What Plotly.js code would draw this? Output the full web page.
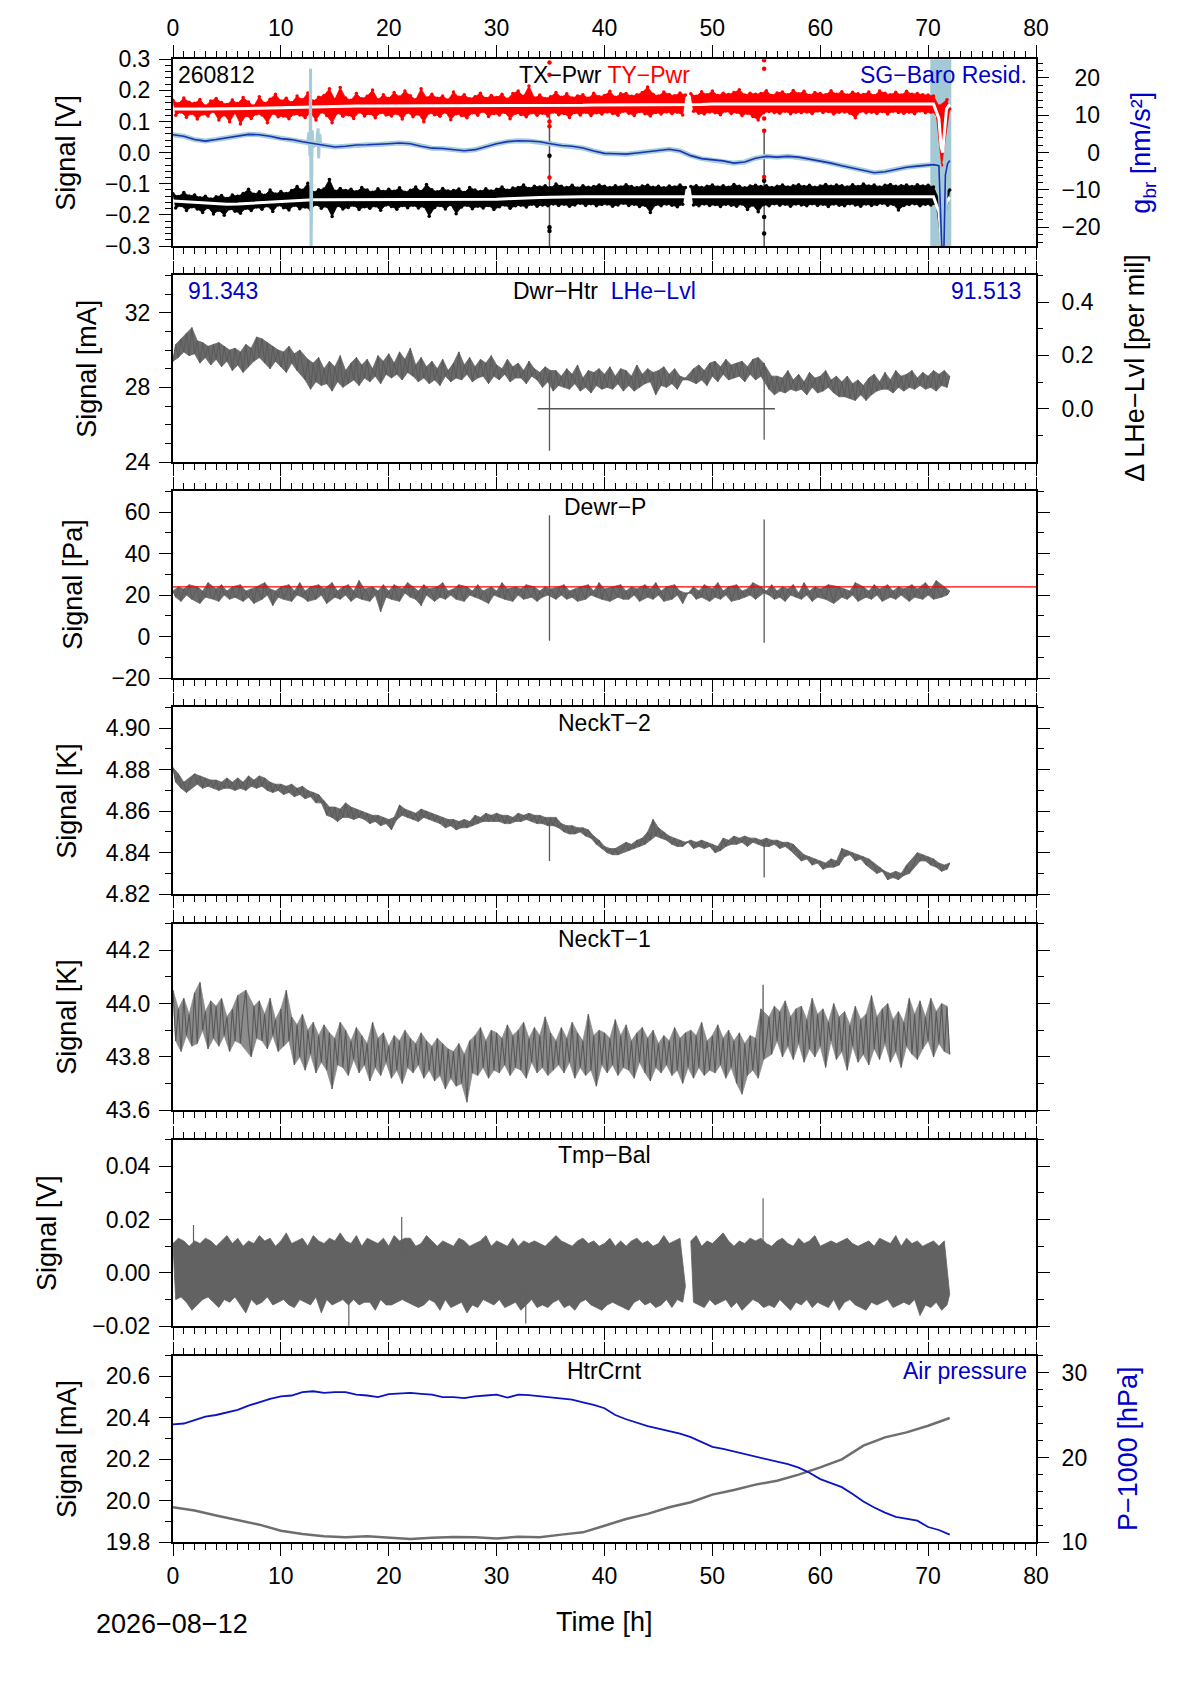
<!DOCTYPE html>
<html>
<head>
<meta charset="utf-8">
<title>SG monitor 260812</title>
<script src="https://cdn.plot.ly/plotly-3.0.1.min.js"></script>
<style>
  html, body { margin: 0; padding: 0; background: #fff; }
  #chart { width: 1190px; height: 1684px; }
</style>
</head>
<body>
<div id="chart"></div>
<script>
/* Seven stacked monitor channels of the gravimeter, 0 h .. 72 h.
 *
 * The noisy channels are sampled every quarter hour and drawn the way a plotter
 * shows dense data: filled between the peaks and troughs of the trace. Short
 * spikes are kept apart so they stay thin. Smooth channels carry their own times.
 */

(function () {
  "use strict";

  // ---------------------------------------------------------------- data
  const T_START = 0;   // h
  const T_STEP = 0.25; // h, one reading per quarter hour

  // TY-Pwr, mV (red band), two hours per row
  const TY_PWR_MV = [
    168,120,157,131,176,114,162,127,  159,108,171,124,150,118,166,133,
    174,105,161,122,155,99,169,128,   158,92,177,119,163,110,150,125,
    180,121,158,96,172,127,188,115,   166,118,175,109,160,124,182,121,
    170,113,192,127,165,105,178,131,  184,119,205,96,171,128,209,117,
    176,122,168,110,190,131,173,118,  181,126,201,112,170,129,186,121,
    174,118,193,127,179,108,198,130,  183,115,170,124,205,99,176,128,
    188,122,175,117,182,131,169,106,  195,125,178,119,186,112,173,128,
    180,120,191,133,174,116,184,126,  177,121,188,130,172,109,190,127,
    198,123,181,115,214,128,176,120,  185,127,174,118,180,131,193,122,
    178,126,189,113,176,129,182,121,  186,130,175,119,191,128,180,124,
    184,131,197,126,178,120,189,133,  190,127,181,119,186,132,193,125,
    211,118,188,129,182,124,195,131,  187,126,183,130,192,121,185,null,
    189,133,181,127,196,124,186,131,  198,128,184,122,191,134,187,126,
    193,130,202,119,185,127,191,116,  188,105,190,128,199,132,184,129,
    192,127,195,133,186,125,200,130,  189,128,197,131,184,126,193,134,
    190,129,186,132,199,124,188,130,  196,131,185,127,194,112,189,133,
    187,128,195,130,183,126,198,132,  191,124,186,133,194,129,185,127,
    197,130,188,125,190,134,186,128,  185,130,182,125,150,-40,90,170,
    140
  ];

  // TX-Pwr, mV (black band)
  const TX_PWR_MV = [
    -132,-178,-141,-170,-128,-186,-139,-174,  -136,-181,-145,-192,-140,-176,-149,-197,
    -142,-185,-138,-201,-147,-180,-136,-188,  -140,-195,-131,-179,-118,-186,-134,-175,
    -126,-182,-137,-171,-120,-189,-133,-168,  -125,-177,-131,-184,-122,-169,-109,-180,
    -121,-175,-98,-183,-128,-166,-119,-179,   -117,-172,-86,-205,-124,-170,-115,-181,
    -122,-176,-118,-169,-126,-183,-112,-174,  -120,-179,-127,-171,-116,-185,-125,-168,
    -118,-173,-124,-182,-113,-170,-127,-177,  -121,-169,-110,-178,-125,-172,-102,-204,
    -119,-176,-126,-170,-115,-181,-123,-167,  -122,-196,-117,-175,-128,-169,-112,-180,
    -120,-172,-125,-178,-116,-170,-123,-183,  -118,-174,-110,-168,-121,-179,-114,-171,
    -112,-169,-104,-175,-115,-166,-108,-172,  -110,-168,-106,-171,-113,-165,-101,-170,
    -108,-166,-112,-172,-105,-168,-114,-163,  -106,-170,-111,-164,-109,-171,-104,-167,
    -108,-165,-112,-172,-106,-168,-110,-163,  -103,-170,-109,-166,-112,-173,-107,-169,
    -105,-192,-111,-167,-108,-171,-113,-165,  -107,-169,-110,-174,-104,-166,-112,null,
    -109,-168,-106,-171,-112,-165,-108,-170,  -104,-167,-110,-173,-106,-166,-111,-169,
    -102,-172,-108,-165,-113,-183,-107,-168,  -105,-190,-109,-167,-106,-171,-112,-164,
    -108,-169,-104,-166,-110,-172,-106,-165,  -103,-168,-109,-171,-105,-164,-111,-170,
    -107,-166,-102,-173,-108,-165,-104,-169,  -106,-171,-110,-164,-103,-168,-109,-172,
    -101,-165,-107,-170,-104,-167,-110,-163,  -105,-169,-102,-166,-108,-184,-106,-170,
    -104,-167,-109,-164,-103,-171,-107,-166,  -105,-168,-110,-165,-150,-300,-200,-125,
    -120
  ];

  // White running means of both power channels, mV
  const PWR_MEAN_T = [
    0,1,2,3,4,5,6,7,8,9, 10,11,12,13,14,15,16,17,18,19, 20,21,22,23,24,25,26,27,28,29,
    30,31,32,33,34,35,36,37,38,39, 40,41,42,43,44,45,46,47,48,49, 50,51,52,53,54,55,56,57,58,59,
    60,61,62,63,64,65,66,67,68,69, 70,70.5,71,71.2,71.35,71.5,71.7,72
  ];
  const TY_MEAN_MV = [
    140,141,140,140,140,141,142,142,143,144, 145,145,146,147,148,149,149,150,150,150,
    150,151,150,150,150,151,152,151,151,151, 150,150,151,152,152,152,152,152,152,153,
    153,154,154,154,155,154,154,154,155,155, 156,156,156,156,156,156,156,156,157,157,
    157,157,157,157,157,157,157,157,157,157, 157,156,110,20,0,60,140,155
  ];
  const TX_MEAN_MV = [
    -155,-157,-159,-162,-164,-166,-165,-163,-160,-157, -155,-153,-152,-151,-151,-151,-151,-151,-151,-151,
    -150,-151,-151,-152,-152,-152,-152,-151,-151,-150, -150,-148,-146,-145,-144,-143,-142,-142,-142,-142,
    -142,-142,-142,-142,-142,-142,-142,-142,-142,-142, -142,-142,-142,-142,-142,-142,-142,-142,-141,-141,
    -141,-141,-141,-141,-141,-141,-141,-141,-141,-141, -141,-142,-190,-290,-330,-240,-160,-143
  ];

  // Outliers around the two interruptions
  const TY_OUT_T = [34.9,34.9,34.9,34.9,34.9,34.9, 54.8,54.8,54.8,54.8,54.8,54.8];
  const TY_OUT_MV = [290,250,100,85,-80,-155, 297,270,110,70,-78,-120];
  const TX_OUT_T = [34.9,34.9,34.9,34.9, 54.8,54.8,54.8,54.8];
  const TX_OUT_MV = [30,-10,-240,-252, -90,-120,-207,-260];
  const DROP_T = [34.9, 54.8];
  const DROP_LO_MV = [-300, -300];
  const DROP_HI_MV = [120, 70];

  // SG-Baro residual, nm/s^2 (right axis of panel 1)
  const RESID_T = [
    0,1,2,3,4,5,6,7,8,9, 10,11,12,13,14,15,16,17,18,19, 20,21,22,23,24,25,26,27,28,29,
    30,31,32,33,34,35,36,37,38,39, 40,41,42,43,44,45,46,47,48,49, 50,51,52,53,54,55,56,57,58,59,
    60,61,62,63,64,65,66,67,68,69, 70,70.5,71,71.15,71.3,71.45,71.6,71.8,72
  ];
  const RESID_NMS2 = [
    4.8,4.4,3.5,3.1,3.5,4.0,4.6,4.9,4.8,4.4, 3.75,3.5,2.9,2.4,1.9,1.5,1.7,2.05,2.1,2.2,
    2.4,2.6,2.4,1.7,1.2,1.1,0.8,0.5,0.8,1.7, 2.4,2.95,3.2,3.1,2.9,2.4,1.9,1.7,1.25,0.45,
    -0.2,-0.3,-0.4,-0.1,0.2,0.6,0.9,0.45,-0.8,-1.6, -1.9,-2.2,-2.8,-2.5,-1.5,-1.0,-1.2,-1.0,-1.2,-1.7,
    -2.2,-2.8,-3.5,-4.2,-4.9,-5.4,-5.1,-4.4,-3.9,-3.6, -3.4,-3.2,-3.5,-15,-28,-28,-6,-3,-2.1
  ];
  // raw residual burst near 13 h
  const RAW_BURST_T = [12.5,12.6,12.7,12.75,12.8,12.9,13.0,13.3,13.45,13.5,13.6,13.7];
  const RAW_BURST_NMS2 = [3.0,5.5,-1.0,22.5,-27,6.0,1.5,2.5,6.5,-1.5,5.0,2.0];
  const SHADE_T = [70.2, 72.15];

  // Dwr-Htr, mA
  const DWR_HTR_MA = [
    29.4,30.3,29.6,30.6,29.9,30.9,29.7,31.2,  29.8,30.5,29.3,30.4,29.6,30.2,29.2,30.3,
    29.5,30.4,29.1,30.2,29.4,30.0,28.9,30.1,  29.2,29.9,28.8,30.3,29.1,30.1,29.4,30.7,
    29.6,30.6,29.3,30.4,29.0,30.2,29.4,30.0,  29.1,29.9,28.8,30.2,29.3,29.8,28.9,30.0,
    29.2,28.4,29.5,27.9,29.3,28.3,29.6,28.1,  29.0,28.2,29.4,27.8,29.1,28.3,29.7,28.0,
    28.9,28.2,29.3,28.4,29.6,28.1,29.2,28.5,  29.5,28.3,29.0,28.6,29.7,28.2,29.4,28.7,
    29.8,28.5,29.3,28.7,29.9,28.4,29.5,28.8,  30.1,28.6,29.2,28.3,29.6,28.5,29.1,28.2,
    29.4,28.4,29.0,28.1,29.5,28.6,28.9,28.3,  29.3,28.5,29.9,28.4,29.2,28.7,29.6,28.3,
    29.1,28.5,29.5,28.6,29.3,28.2,29.7,28.6,  29.2,28.4,29.0,28.7,29.5,28.3,29.1,28.5,
    29.3,28.5,28.9,28.2,29.4,28.6,29.0,28.4,  28.8,28.0,29.1,28.3,28.9,27.8,28.9,28.1,
    28.6,28.0,29.0,27.9,28.7,28.2,29.2,27.8,  28.5,28.0,28.9,27.7,28.8,28.1,29.0,27.9,
    28.7,28.0,29.1,27.9,28.6,28.2,29.0,27.8,  28.9,28.1,28.6,27.8,29.2,28.0,28.7,28.2,
    29.0,28.3,28.8,27.6,28.9,28.1,29.1,28.0,  28.7,28.2,29.0,27.9,28.6,28.4,28.5,28.4,
    28.5,29.0,28.2,29.2,28.4,28.9,28.1,29.3,  28.6,29.4,28.3,29.1,28.7,29.5,28.4,29.2,
    28.5,29.3,28.6,29.4,28.3,29.1,28.7,29.5,  28.4,29.6,28.6,29.3,28.8,27.9,28.6,27.6,
    28.6,27.8,28.5,27.7,28.9,27.9,28.4,27.8,  28.7,27.9,28.3,27.6,28.8,28.0,28.5,27.7,
    28.6,27.8,28.9,28.0,28.4,27.7,28.6,27.5,  28.3,27.5,28.6,27.4,28.2,27.3,28.4,27.6,
    28.1,27.3,28.5,27.6,28.7,27.8,28.3,27.9,  28.8,27.9,28.4,27.7,28.9,28.0,28.6,27.8,
    28.7,28.0,28.9,27.9,28.5,28.1,28.8,27.9,  28.6,28.0,28.9,27.8,28.7,28.1,28.9,28.0,
    28.6
  ];
  const DWR_HTR_SPIKE_T = [34.9, 54.8];
  const DWR_HTR_SPIKE_LO = [24.6, 25.2];
  const DWR_HTR_SPIKE_HI = [28.8, 29.3];
  // LHe level, per mil (right axis of panel 2)
  const LHE_T = [33.8, 55.8];
  const LHE_PERMIL = [0, 0];
  const LHE_FIRST = "91.343";
  const LHE_LAST = "91.513";

  // Dewar pressure, Pa
  const DEWR_P_PA = [
    22,19,24,17,23,20,25,18,  21,24,16,22,19,26,20,18,
    23,17,25,20,22,18,24,19,  20,25,17,22,19,23,16,24,
    21,18,26,20,23,15,22,19,  24,18,21,25,17,22,20,26,
    19,22,17,24,21,18,25,20,  23,16,21,26,19,22,18,24,
    20,25,17,22,19,27,18,23,  21,17,24,20,22,12,25,19,
    22,18,25,20,17,23,21,26,  19,24,18,22,15,25,20,23,
    21,17,24,19,26,18,22,20,  23,18,25,21,17,24,20,22,
    19,25,18,22,21,16,24,20,  22,19,26,18,23,20,17,24,
    20,23,18,25,21,19,24,17,  22,19,24,20,23,21,18,24,
    20,25,18,22,19,23,17,24,  21,18,25,20,22,19,26,18,
    23,20,17,24,21,19,25,18,  22,18,24,20,23,17,21,25,
    19,23,18,26,20,22,17,24,  21,18,25,20,22,16,21,21,
    21,24,18,22,19,25,20,17,  23,19,26,18,22,20,24,17,
    21,25,18,22,19,23,20,26,  18,22,24,21,22,20,25,18,
    22,19,24,17,23,20,25,19,  21,18,26,20,22,17,24,19,
    23,20,18,25,21,16,22,24,  19,23,18,22,20,26,17,21,
    24,19,22,18,25,20,23,17,  21,25,19,22,18,24,20,23,
    22,17,25,19,23,20,18,26,  20,23,18,27,21,19,24,20,
    22
  ];
  const DEWR_P_SPIKE_T = [34.9, 54.8];
  const DEWR_P_SPIKE_LO = [-2, -3];
  const DEWR_P_SPIKE_HI = [58.5, 56.5];
  const DEWR_P_REF_T = [0, 80];
  const DEWR_P_REF_PA = [24, 24];

  // Neck temperature 2, K
  const NECK_T2_K = [
    4.881,4.874,4.878,4.871,4.874,4.869,4.873,4.876,  4.878,4.873,4.877,4.871,4.876,4.872,4.875,4.871,
    4.875,4.870,4.874,4.871,4.876,4.871,4.874,4.870,  4.876,4.871,4.874,4.870,4.877,4.872,4.875,4.871,
    4.877,4.872,4.876,4.870,4.874,4.869,4.873,4.870,  4.873,4.868,4.872,4.869,4.873,4.867,4.871,4.868,
    4.872,4.866,4.870,4.867,4.869,4.864,4.868,4.864,  4.865,4.858,4.862,4.857,4.862,4.855,4.861,4.857,
    4.864,4.857,4.862,4.856,4.861,4.857,4.860,4.856,  4.859,4.854,4.858,4.855,4.858,4.853,4.857,4.854,
    4.856,4.851,4.857,4.856,4.863,4.858,4.861,4.857,  4.860,4.856,4.859,4.855,4.861,4.857,4.860,4.856,
    4.859,4.855,4.858,4.854,4.857,4.852,4.856,4.853,  4.856,4.851,4.855,4.852,4.856,4.852,4.855,4.853,
    4.858,4.854,4.857,4.855,4.859,4.855,4.858,4.855,  4.859,4.855,4.858,4.854,4.858,4.854,4.857,4.855,
    4.859,4.855,4.858,4.856,4.859,4.855,4.858,4.854,  4.858,4.854,4.857,4.853,4.857,4.853,4.857,4.852,
    4.854,4.850,4.853,4.849,4.853,4.849,4.852,4.850,  4.852,4.848,4.851,4.847,4.848,4.844,4.846,4.842,
    4.843,4.840,4.842,4.839,4.842,4.839,4.841,4.842,  4.845,4.841,4.844,4.842,4.846,4.843,4.847,4.844,
    4.850,4.846,4.856,4.848,4.852,4.847,4.850,4.846,  4.848,4.844,4.847,4.843,4.846,4.843,4.845,4.845,
    4.846,4.842,4.845,4.843,4.846,4.842,4.845,4.843,  4.844,4.840,4.843,4.841,4.847,4.843,4.846,4.844,
    4.848,4.844,4.847,4.845,4.848,4.843,4.847,4.845,  4.847,4.844,4.846,4.843,4.847,4.843,4.846,4.844,
    4.846,4.842,4.845,4.843,4.845,4.841,4.844,4.841,  4.840,4.836,4.839,4.837,4.838,4.834,4.837,4.835,
    4.836,4.832,4.835,4.833,4.837,4.833,4.836,4.834,  4.842,4.838,4.841,4.839,4.840,4.836,4.839,4.837,
    4.838,4.834,4.837,4.835,4.834,4.830,4.833,4.831,  4.831,4.827,4.830,4.828,4.831,4.827,4.830,4.829,
    4.834,4.830,4.833,4.835,4.840,4.836,4.839,4.836,  4.838,4.834,4.837,4.833,4.835,4.831,4.834,4.832,
    4.835
  ];
  const NECK_T2_SPIKE_T = [34.9, 54.8];
  const NECK_T2_SPIKE_LO = [4.836, 4.828];
  const NECK_T2_SPIKE_HI = [4.855, 4.846];

  // Neck temperature 1, K
  const NECK_T1_K = [
    44.05,43.86,43.98,43.82,44.02,43.88,43.96,43.84,  44.04,43.85,44.08,43.90,43.97,43.83,44.01,43.87,
    43.99,43.84,44.02,43.88,43.95,43.82,43.98,43.86,  44.03,43.85,43.97,44.05,43.89,43.80,43.99,43.87,
    44.01,43.86,43.96,43.83,44.02,43.88,43.94,43.82,  43.98,43.84,44.05,43.86,43.95,43.77,43.92,43.80,
    43.96,43.75,43.90,43.81,43.93,43.74,43.88,43.78,  43.92,43.75,43.89,43.68,43.87,43.77,43.93,43.76,
    43.90,43.73,43.86,43.79,43.91,43.74,43.88,43.77,  43.85,43.71,43.93,43.76,43.87,43.73,43.89,43.78,
    43.84,43.72,43.88,43.75,43.86,43.70,43.90,43.76,  43.87,43.74,43.85,43.77,43.89,43.72,43.86,43.75,
    43.84,43.71,43.87,43.73,43.85,43.68,43.83,43.72,  43.82,43.69,43.85,43.70,43.81,43.63,43.86,43.74,
    43.88,43.73,43.91,43.76,43.86,43.72,43.90,43.75,  43.89,43.74,43.87,43.77,43.92,43.73,43.88,43.76,
    43.90,43.75,43.93,43.72,43.87,43.78,43.91,43.74,  43.88,43.76,43.95,43.73,43.89,43.75,43.86,43.77,
    43.91,43.74,43.87,43.78,43.93,43.72,43.89,43.76,  43.86,43.73,43.96,43.75,43.88,43.69,43.90,43.77,
    43.89,43.74,43.87,43.77,43.94,43.73,43.88,43.76,  43.92,43.75,43.86,43.72,43.89,43.78,43.91,43.74,
    43.87,43.71,43.90,43.76,43.85,43.74,43.88,43.77,  43.86,43.73,43.91,43.75,43.87,43.70,43.89,43.76,
    43.90,43.72,43.88,43.76,43.93,43.73,43.86,43.75,  43.88,43.74,43.92,43.77,43.87,43.72,43.90,43.76,
    43.86,43.70,43.89,43.66,43.85,43.73,43.88,43.75,  43.87,43.72,43.98,43.79,43.85,43.95,43.81,43.99,
    43.86,43.97,43.80,44.01,43.84,43.95,43.79,43.98,  43.85,43.99,43.78,43.94,43.83,44.02,43.80,43.96,
    43.84,43.98,43.76,43.93,43.86,44.00,43.79,43.95,  43.82,43.97,43.75,43.92,43.84,43.99,43.78,43.94,
    43.81,43.96,43.77,44.03,43.83,43.95,43.79,43.98,  43.85,44.00,43.78,43.94,43.82,43.97,43.76,43.93,
    43.84,44.02,43.81,43.96,43.79,44.01,43.83,43.95,  43.86,44.02,43.80,43.97,43.85,44.00,43.82,43.99,
    43.81
  ];
  const NECK_T1_SPIKE_T = [54.7];
  const NECK_T1_SPIKE_LO = [43.82];
  const NECK_T1_SPIKE_HI = [44.07];

  // Tmp-Bal, mV
  const TMP_BAL_MV = [
    11,-10,13,-9,12,-11,10,-14,   12,-12,11,-10,13,-9,12,-11,
    10,-13,12,-10,14,-11,11,-9,   13,-12,10,-15,12,-10,11,-12,
    14,-11,12,-9,13,-12,10,-11,   12,-10,15,-12,11,-13,12,-10,
    13,-11,10,-12,14,-9,12,-15,   11,-10,13,-12,12,-11,15,-10,
    12,-12,11,-10,14,-12,10,-11,  13,-11,12,-14,11,-10,13,-12,
    10,-12,14,-11,12,-10,13,-11,  13,-12,10,-13,11,-12,14,-10,
    12,-11,10,-14,12,-10,11,-13,  10,-12,13,-11,12,-15,10,-12,
    11,-13,12,-10,14,-11,10,-12,  12,-10,11,-13,10,-12,13,-11,
    10,-14,12,-12,11,-10,12,-13,  11,-12,10,-13,12,-11,14,-10,
    12,-13,11,-12,10,-14,12,-11,  13,-10,11,-12,12,-13,10,-14,
    11,-12,13,-11,10,-12,12,-13,  10,-14,12,-11,13,-10,11,-12,
    12,-11,10,-13,11,-12,14,-10,  11,-13,12,-10,13,-11,-5,null,
    12,-11,14,-12,10,-13,12,-10,  11,-12,13,-11,15,-10,12,-13,
    10,-11,12,-14,11,-12,13,-10,  12,-11,13,-13,11,-12,10,-13,
    12,-10,13,-12,11,-14,10,-11,  13,-12,11,-10,12,-13,14,-11,
    10,-12,11,-13,12,-10,11,-14,  12,-11,13,-10,11,-12,10,-13,
    11,-14,12,-11,10,-12,13,-11,  12,-10,11,-13,14,-12,10,-11,
    13,-12,11,-10,12,-16,10,-12,  11,-13,12,-11,10,-14,12,-12,
    -8
  ];
  const TMP_BAL_SPIKE_T = [1.9, 16.3, 21.2, 32.7, 54.7];
  const TMP_BAL_SPIKE_LO = [6, -20, 6, -19, 8];
  const TMP_BAL_SPIKE_HI = [18, -6, 21, -6, 28];

  // Heater current, mA, every two hours
  const HTR_T = [0,2,4,6,8,10,12,14,16,18,20,22,24,26,28,30,32,34,36,38,40,42,44,46,48,50,52,54,56,58,60,62,64,66,68,70,72];
  const HTR_MA = [
    19.969,19.953,19.929,19.908,19.885,19.856,19.840,19.829,19.824,19.829,
    19.821,19.816,19.822,19.826,19.824,19.818,19.827,19.824,19.837,19.848,
    19.880,19.912,19.937,19.969,19.993,20.030,20.052,20.078,20.097,20.126,
    20.161,20.200,20.266,20.306,20.330,20.362,20.399
  ];

  // Air pressure minus 1000 hPa, hourly
  const AIR_T = [
    0,1,2,3,4,5,6,7,8,9, 10,11,12,13,14,15,16,17,18,19, 20,21,22,23,24,25,26,27,28,29,
    30,31,32,33,34,35,36,37,38,39, 40,41,42,43,44,45,46,47,48,49, 50,51,52,53,54,55,56,57,58,59,
    60,61,62,63,64,65,66,67,68,69, 70,71,72
  ];
  const AIR_HPA = [
    23.9,24.0,24.4,24.8,25.0,25.3,25.6,26.1,26.5,26.9, 27.2,27.3,27.7,27.8,27.6,27.7,27.7,27.4,27.3,27.1,
    27.45,27.5,27.6,27.5,27.4,27.1,27.1,27.0,27.2,27.3, 27.4,27.05,27.4,27.35,27.2,27.05,26.9,26.8,26.5,26.2,
    25.8,25.0,24.5,24.1,23.7,23.4,23.1,22.8,22.4,21.8, 21.25,21.0,20.7,20.4,20.1,19.8,19.5,19.2,18.8,18.2,
    17.45,17.0,16.5,15.7,14.8,14.1,13.5,13.0,12.75,12.55, 11.8,11.45,10.9
  ];

  const STATION_DAY = "260812";
  const DATE_LABEL = "2026\u221208\u221212";

  // ------------------------------------------------------------ geometry
  const W = 1190;
  const H = 1684;
  const PLOT_LEFT = 173;
  const PLOT_RIGHT = 1036;
  const PANEL_TOP0 = 59.3;
  const PANEL_PITCH = 216.05;
  const PANEL_H = 186.7;

  const FONT = "Liberation Sans, Arial, Helvetica, sans-serif";
  const TICK_SIZE = 23;
  const LABEL_SIZE = 23;
  const TITLE_SIZE = 27;
  const BLUE = "#0000c8";
  const GREY = "#5a5a5a";
  const BAND_GREY = "#6a6a6a";
  const RED = "#ff0000";
  const LIGHT_BLUE = "rgb(165,204,216)";
  const MINUS = "\u2212";
  const FIG_SPACE = "\u2007";

  const X_NAMES = ["x", "x2", "x3", "x4", "x5", "x6", "x7"];
  const Y_NAMES = ["y", "y3", "y5", "y6", "y7", "y8", "y9"];

  const quarterHours = TY_PWR_MV.map((_, i) => T_START + i * T_STEP);
  [TX_PWR_MV, DWR_HTR_MA, DEWR_P_PA, NECK_T2_K, NECK_T1_K, TMP_BAL_MV].forEach(function (arr, k) {
    if (arr.length !== quarterHours.length) {
      console.warn("series", k, "has", arr.length, "values, expected", quarterHours.length);
    }
  });

  const mvToV = (v) => (v === null ? null : v / 1000);

  function px(x) { return x / W; }
  function py(y) { return 1 - y / H; }
  function panelTop(i) { return PANEL_TOP0 + i * PANEL_PITCH; }
  function yDomain(i) { return [py(panelTop(i) + PANEL_H), py(panelTop(i))]; }
  function axisKey(name) { return name.charAt(0) + "axis" + name.slice(1); }

  // Closed outline through the peaks (left to right) and the troughs
  // (right to left) of each unbroken stretch of a trace; nulls split it.
  function hull(times, values) {
    const xs = [];
    const ys = [];
    let seg = [];
    function flush() {
      const n = seg.length;
      if (n > 1) {
        const at = (k) => seg[Math.min(n - 1, Math.max(0, k))][1];
        const peaks = [];
        const troughs = [];
        seg.forEach(function (p, k) {
          const ends = k === 0 || k === n - 1;
          if (ends || (p[1] >= at(k - 1) && p[1] >= at(k + 1))) peaks.push(p);
          if (ends || (p[1] <= at(k - 1) && p[1] <= at(k + 1))) troughs.push(p);
        });
        peaks.forEach(function (p) { xs.push(p[0]); ys.push(p[1]); });
        for (let k = troughs.length - 1; k >= 0; k--) { xs.push(troughs[k][0]); ys.push(troughs[k][1]); }
        xs.push(null);
        ys.push(null);
      }
      seg = [];
    }
    values.forEach(function (v, i) {
      if (v === null) { flush(); } else { seg.push([times[i], v]); }
    });
    flush();
    return { x: xs, y: ys };
  }

  // Vertical strokes from lo to hi at the given times.
  function strokes(times, lo, hi) {
    const xs = [];
    const ys = [];
    times.forEach(function (t, k) {
      xs.push(t, t, null);
      ys.push(lo[k], hi[k], null);
    });
    return { x: xs, y: ys };
  }

  const tickFont = { family: FONT, size: TICK_SIZE, color: "#000" };

  function minorTicks(dtick) {
    return { dtick: dtick, tick0: 0, ticks: "outside", ticklen: 6, tickwidth: 1,
             tickcolor: "#000", showgrid: false };
  }

  function xAxis(i, extra) {
    return Object.assign({
      domain: [px(PLOT_LEFT), px(PLOT_RIGHT)],
      anchor: Y_NAMES[i],
      range: [0, 80],
      tick0: 0,
      dtick: 10,
      ticks: "outside", ticklen: 12, tickwidth: 1, tickcolor: "#000",
      minor: minorTicks(1),
      showline: true, linewidth: 2, linecolor: "#000", mirror: "ticks",
      showgrid: false, zeroline: false,
      showticklabels: false,
      tickfont: tickFont,
      fixedrange: true,
    }, extra || {});
  }

  function yAxis(i, range, dtick, minor, fmt, hasRight) {
    return {
      domain: yDomain(i),
      anchor: X_NAMES[i],
      range: range,
      tick0: 0,
      dtick: dtick,
      tickformat: fmt,
      ticks: "outside", ticklen: 12, tickwidth: 1, tickcolor: "#000",
      ticklabelstandoff: 4,
      minor: minorTicks(minor),
      showline: true, linewidth: 2, linecolor: "#000",
      mirror: hasRight ? true : "ticks",
      showgrid: false, zeroline: false,
      tickfont: tickFont,
      fixedrange: true,
    };
  }

  function rightAxis(i, base, range, extra) {
    return Object.assign({
      domain: yDomain(i),
      anchor: X_NAMES[i],
      overlaying: base,
      side: "right",
      range: range,
      tick0: 0,
      ticks: "outside", ticklen: 12, tickwidth: 1, tickcolor: "#000",
      ticklabelstandoff: 8,
      showline: false, showgrid: false, zeroline: false,
      tickfont: tickFont,
      fixedrange: true,
    }, extra);
  }

  // --------------------------------------------------------------- traces
  const traces = [];
  function add(trace) {
    traces.push(Object.assign({ type: "scatter", mode: "lines", hoverinfo: "skip", showlegend: false }, trace));
  }
  function addBand(times, values, xa, ya, fill) {
    const b = hull(times, values);
    add({ x: b.x, y: b.y, xaxis: xa, yaxis: ya, fill: "toself", fillcolor: fill,
          line: { color: fill, width: 0.8, simplify: false } });
  }
  function addTrace(times, values, xa, ya, color, width) {
    add({ x: times, y: values, xaxis: xa, yaxis: ya, line: { color: color, width: width, simplify: false } });
  }
  function addStrokes(times, lo, hi, xa, ya, color, width) {
    const s = strokes(times, lo, hi);
    add({ x: s.x, y: s.y, xaxis: xa, yaxis: ya, line: { color: color, width: width } });
  }

  // Panel 1: power channels (left, V) and SG-Baro residual (right, nm/s^2)
  addStrokes(DROP_T, DROP_LO_MV.map(mvToV), DROP_HI_MV.map(mvToV), "x", "y", "#555", 1.5);

  const tyV = TY_PWR_MV.map(mvToV);
  addBand(quarterHours, tyV, "x", "y", RED);
  add({ x: quarterHours, y: tyV, xaxis: "x", yaxis: "y", mode: "markers", marker: { color: RED, size: 3.5 } });
  add({ x: TY_OUT_T, y: TY_OUT_MV.map(mvToV), xaxis: "x", yaxis: "y", mode: "markers",
        marker: { color: RED, size: 4.5 } });
  add({ x: PWR_MEAN_T, y: TY_MEAN_MV.map(mvToV), xaxis: "x", yaxis: "y",
        line: { color: "#fff", width: 3 } });

  const txV = TX_PWR_MV.map(mvToV);
  addBand(quarterHours, txV, "x", "y", "#000");
  add({ x: quarterHours, y: txV, xaxis: "x", yaxis: "y", mode: "markers", marker: { color: "#000", size: 3.5 } });
  add({ x: TX_OUT_T, y: TX_OUT_MV.map(mvToV), xaxis: "x", yaxis: "y", mode: "markers",
        marker: { color: "#000", size: 4.5 } });
  add({ x: PWR_MEAN_T, y: TX_MEAN_MV.map(mvToV), xaxis: "x", yaxis: "y",
        line: { color: "#fff", width: 3 } });

  add({ x: RESID_T, y: RESID_NMS2, xaxis: "x", yaxis: "y2", line: { color: LIGHT_BLUE, width: 5 } });
  add({ x: RAW_BURST_T, y: RAW_BURST_NMS2, xaxis: "x", yaxis: "y2",
        line: { color: LIGHT_BLUE, width: 3, simplify: false } });
  add({ x: RESID_T, y: RESID_NMS2, xaxis: "x", yaxis: "y2", line: { color: "#1a32b4", width: 1.6 } });

  // Panel 2: dewar heater (left, mA) and LHe level (right, per mil)
  addBand(quarterHours, DWR_HTR_MA, "x2", "y3", BAND_GREY);
  addTrace(quarterHours, DWR_HTR_MA, "x2", "y3", GREY, 1);
  addStrokes(DWR_HTR_SPIKE_T, DWR_HTR_SPIKE_LO, DWR_HTR_SPIKE_HI, "x2", "y3", GREY, 1.3);
  add({ x: LHE_T, y: LHE_PERMIL, xaxis: "x2", yaxis: "y4", line: { color: "#555", width: 1.5 } });

  // Panel 3: dewar pressure with reference level
  addBand(quarterHours, DEWR_P_PA, "x3", "y5", BAND_GREY);
  addTrace(quarterHours, DEWR_P_PA, "x3", "y5", GREY, 1);
  addStrokes(DEWR_P_SPIKE_T, DEWR_P_SPIKE_LO, DEWR_P_SPIKE_HI, "x3", "y5", GREY, 1.3);
  add({ x: DEWR_P_REF_T, y: DEWR_P_REF_PA, xaxis: "x3", yaxis: "y5", line: { color: RED, width: 1.2 } });

  // Panel 4: neck temperature 2
  addBand(quarterHours, NECK_T2_K, "x4", "y6", BAND_GREY);
  addTrace(quarterHours, NECK_T2_K, "x4", "y6", GREY, 1);
  addStrokes(NECK_T2_SPIKE_T, NECK_T2_SPIKE_LO, NECK_T2_SPIKE_HI, "x4", "y6", GREY, 1.3);

  // Panel 5: neck temperature 1 (coarser noise, keep the strokes visible)
  addBand(quarterHours, NECK_T1_K, "x5", "y7", "#8c8c8c");
  addTrace(quarterHours, NECK_T1_K, "x5", "y7", "#585858", 1.1);
  addStrokes(NECK_T1_SPIKE_T, NECK_T1_SPIKE_LO, NECK_T1_SPIKE_HI, "x5", "y7", "#585858", 1.3);

  // Panel 6: Tmp-Bal
  addBand(quarterHours, TMP_BAL_MV.map(mvToV), "x6", "y8", "#626262");
  addStrokes(TMP_BAL_SPIKE_T, TMP_BAL_SPIKE_LO.map(mvToV), TMP_BAL_SPIKE_HI.map(mvToV), "x6", "y8", "#626262", 1.2);

  // Panel 7: heater current (left, mA) and air pressure (right, hPa)
  add({ x: HTR_T, y: HTR_MA, xaxis: "x7", yaxis: "y9", line: { color: "#6e6e6e", width: 2.5 } });
  add({ x: AIR_T, y: AIR_HPA, xaxis: "x7", yaxis: "y10", line: { color: "#0a14c0", width: 1.8 } });

  // --------------------------------------------------------------- layout
  const layout = {
    width: W,
    height: H,
    margin: { l: 0, r: 0, t: 0, b: 0 },
    paper_bgcolor: "#fff",
    plot_bgcolor: "#fff",
    font: { family: FONT, color: "#000" },
    showlegend: false,
    shapes: [{
      type: "rect", xref: "x", yref: "y domain",
      x0: SHADE_T[0], x1: SHADE_T[1], y0: 0, y1: 1,
      fillcolor: "rgb(163,201,212)", line: { width: 0 }, layer: "below",
    }],
    annotations: [],
  };

  X_NAMES.forEach(function (name, i) {
    let extra = {};
    if (i === 0) extra = { side: "top", showticklabels: true };
    if (i === 6) extra = { side: "bottom", showticklabels: true };
    layout[axisKey(name)] = xAxis(i, extra);
  });

  layout.yaxis = yAxis(0, [-0.3, 0.3], 0.1, 0.02, ".1f", true);
  layout.yaxis3 = yAxis(1, [24, 34], 4, 1, "d", true);
  layout.yaxis5 = yAxis(2, [-20, 70], 20, 10, "d", false);
  layout.yaxis6 = yAxis(3, [4.82, 4.91], 0.02, 0.01, ".2f", false);
  layout.yaxis7 = yAxis(4, [43.6, 44.3], 0.2, 0.1, ".1f", false);
  layout.yaxis8 = yAxis(5, [-0.02, 0.05], 0.02, 0.01, ".2f", false);
  layout.yaxis9 = yAxis(6, [19.8, 20.7], 0.2, 0.1, ".1f", true);

  // right-hand labels are right-aligned in the original: pad with figure spaces
  layout.yaxis2 = rightAxis(0, "y", [-25, 25], {
    tickmode: "array",
    tickvals: [-20, -10, 0, 10, 20],
    ticktext: [MINUS + "20", MINUS + "10", FIG_SPACE + FIG_SPACE + "0", FIG_SPACE + "10", FIG_SPACE + "20"],
    minor: Object.assign(minorTicks(2), { tickmode: "linear" }),
  });
  layout.yaxis4 = rightAxis(1, "y3", [-0.1999, 0.5], { dtick: 0.2, tickformat: ".1f", minor: minorTicks(0.1) });
  layout.yaxis10 = rightAxis(6, "y9", [10, 32], { dtick: 10, tickformat: "d", minor: minorTicks(2) });

  // ---------------------------------------------------------- annotations
  function note(text, x, y, opts) {
    layout.annotations.push(Object.assign({
      text: text, x: px(x), y: py(y), xref: "paper", yref: "paper",
      showarrow: false, xanchor: "center", yanchor: "middle",
      font: { family: FONT, size: LABEL_SIZE, color: "#000" },
    }, opts || {}));
  }
  const blueFont = { family: FONT, size: LABEL_SIZE, color: BLUE };
  const centre = (PLOT_LEFT + PLOT_RIGHT) / 2;

  // panel captions
  note(STATION_DAY, 176, panelTop(0) + 15.5, { xanchor: "left" });
  note("TX" + MINUS + "Pwr " + '<span style="color:' + RED + '">TY' + MINUS + "Pwr</span>", centre, panelTop(0) + 15.5);
  note("SG" + MINUS + "Baro Resid.", 1029, panelTop(0) + 15.5, { xanchor: "right", font: blueFont });
  note(LHE_FIRST, 186, panelTop(1) + 15.5, { xanchor: "left", font: blueFont });
  note("Dwr" + MINUS + "Htr\u00a0\u00a0" + '<span style="color:' + BLUE + '">LHe' + MINUS + "Lvl</span>", centre, panelTop(1) + 15.5);
  note(LHE_LAST, 1023, panelTop(1) + 15.5, { xanchor: "right", font: blueFont });
  note("Dewr" + MINUS + "P", centre, panelTop(2) + 15.5);
  note("NeckT" + MINUS + "2", centre, panelTop(3) + 15.5);
  note("NeckT" + MINUS + "1", centre, panelTop(4) + 15.5);
  note("Tmp" + MINUS + "Bal", centre, panelTop(5) + 15.5);
  note("HtrCrnt", centre, panelTop(6) + 15.5);
  note("Air pressure", 1029, panelTop(6) + 15.5, { xanchor: "right", font: blueFont });

  // axis titles
  const titleFont = { family: FONT, size: TITLE_SIZE, color: "#000" };
  const blueTitleFont = { family: FONT, size: TITLE_SIZE, color: BLUE };
  const leftTitles = [["Signal [V]", 66], ["Signal [mA]", 87], ["Signal [Pa]", 73], ["Signal [K]", 67],
                      ["Signal [K]", 67], ["Signal [V]", 47], ["Signal [mA]", 67]];
  leftTitles.forEach(function (item, i) {
    note(item[0], item[1], panelTop(i) + PANEL_H / 2, { textangle: -90, font: titleFont });
  });
  note("g<sub>br</sub> [nm/s\u00b2]", 1143, panelTop(0) + PANEL_H / 2, { textangle: -90, font: blueTitleFont });
  note("\u0394 LHe" + MINUS + "Lvl [per mil]", 1135, panelTop(1) + PANEL_H / 2, { textangle: -90, font: titleFont });
  note("P" + MINUS + "1000 [hPa]", 1128, panelTop(6) + PANEL_H / 2, { textangle: -90, font: blueTitleFont });

  note("Time [h]", centre, 1622, { font: titleFont });
  note(DATE_LABEL, 94, 1624, { xanchor: "left", font: titleFont });

  Plotly.newPlot("chart", traces, layout, { staticPlot: true, displayModeBar: false });
})();
</script>
</body>
</html>
